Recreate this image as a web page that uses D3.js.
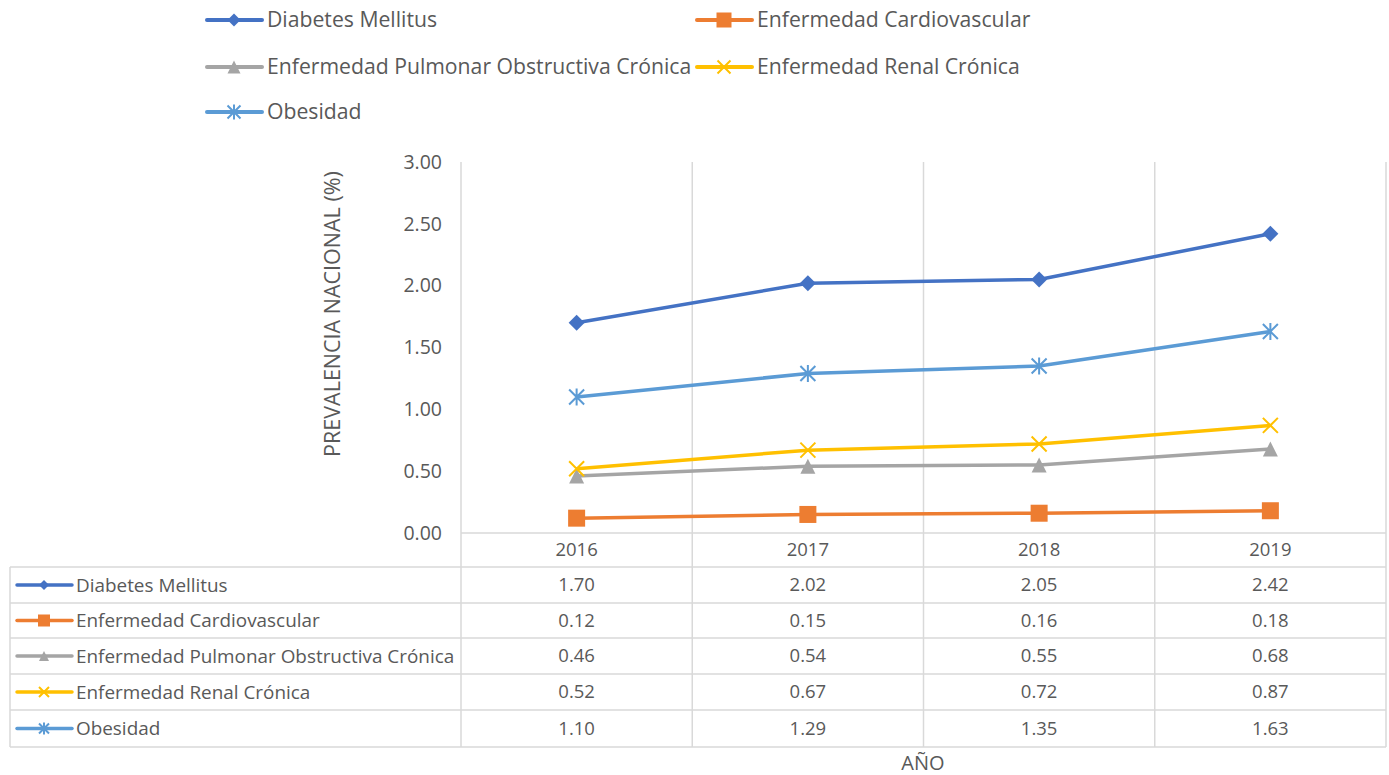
<!DOCTYPE html>
<html><head><meta charset="utf-8">
<script src="https://cdn.jsdelivr.net/npm/d3@7"></script>
<style>body{margin:0;background:#fff}svg{display:block;font-family:"Open Sans","Liberation Sans",sans-serif}</style>
</head><body><svg id="c" width="1389" height="775"></svg>
<script>
const years = ["2016","2017","2018","2019"];
const seriesNames = ["Diabetes Mellitus","Enfermedad Cardiovascular","Enfermedad Pulmonar Obstructiva Crónica","Enfermedad Renal Crónica","Obesidad"];
const diabetes = [1.70,2.02,2.05,2.42];
const cardio = [0.12,0.15,0.16,0.18];
const epoc = [0.46,0.54,0.55,0.68];
const renal = [0.52,0.67,0.72,0.87];
const obesidad = [1.10,1.29,1.35,1.63];
const yTicks = [0,0.5,1,1.5,2,2.5,3];
const colors = ["#4472C4","#ED7D31","#A5A5A5","#FFC000","#5B9BD5"];
const markers = ["diamond","square","triangle","x","asterisk"];
const values = [diabetes,cardio,epoc,renal,obesidad];

const svg = d3.select("#c");
const txt = "#595959", grid = "#D9D9D9";
const x = d3.scaleBand().domain(years).range([461,1386]);
const y = d3.scaleLinear().domain([0,3]).range([533,162]);

function marker(g, type, cx, cy, s, color){
  if(type==="diamond"){
    g.append("path").attr("d",`M${cx},${cy-s/2}L${cx+s/2},${cy}L${cx},${cy+s/2}L${cx-s/2},${cy}Z`).attr("fill",color);
  } else if(type==="square"){
    g.append("rect").attr("x",cx-s/2).attr("y",cy-s/2).attr("width",s).attr("height",s).attr("fill",color);
  } else if(type==="triangle"){
    g.append("path").attr("d",`M${cx},${cy-s/2}L${cx+s/2},${cy+s/2}L${cx-s/2},${cy+s/2}Z`).attr("fill",color);
  } else if(type==="x"){
    const h=s/2;
    g.append("path").attr("d",`M${cx-h},${cy-h}L${cx+h},${cy+h}M${cx-h},${cy+h}L${cx+h},${cy-h}`).attr("stroke",color).attr("stroke-width",2).attr("fill","none");
  } else if(type==="asterisk"){
    const h=s/2;
    g.append("path").attr("d",`M${cx-h},${cy-h}L${cx+h},${cy+h}M${cx-h},${cy+h}L${cx+h},${cy-h}M${cx},${cy-h-1}L${cx},${cy+h+1}`).attr("stroke",color).attr("stroke-width",2).attr("fill","none");
  }
}

// vertical gridlines (category boundaries)
const bounds = years.map(d=>x(d)).concat([x.range()[1]]);
bounds.forEach(bx=>{
  svg.append("line").attr("x1",bx).attr("x2",bx).attr("y1",162).attr("y2",747).attr("stroke",grid).attr("stroke-width",1.5);
});
// table horizontal lines
const rowY = [533,567,603,638,674,710,747];
rowY.forEach((ry,i)=>{
  svg.append("line").attr("x1",i===0?461:10).attr("x2",1386).attr("y1",ry).attr("y2",ry).attr("stroke",grid).attr("stroke-width",1.5);
});
svg.append("line").attr("x1",10).attr("x2",10).attr("y1",567).attr("y2",747).attr("stroke",grid).attr("stroke-width",1.5);

// y tick labels
yTicks.forEach(t=>{
  svg.append("text").attr("x",442).attr("y",y(t)).attr("dy","0.35em").attr("text-anchor","end")
    .attr("font-size",19.5).attr("fill",txt).text(t.toFixed(2));
});
// y title
svg.append("text").attr("transform","translate(340,314) rotate(-90)").attr("text-anchor","middle")
  .attr("font-size",21.5).attr("fill",txt).text("PREVALENCIA NACIONAL (%)");

// year header
years.forEach(yr=>{
  svg.append("text").attr("x",x(yr)+x.bandwidth()/2).attr("y",(533+567)/2).attr("dy","0.35em")
    .attr("text-anchor","middle").attr("font-size",18.5).attr("fill",txt).text(yr);
});

// lines
const line = d3.line().x((d,i)=>x(years[i])+x.bandwidth()/2).y(d=>y(d));
values.forEach((vals,k)=>{
  svg.append("path").attr("d",line(vals)).attr("fill","none").attr("stroke",colors[k]).attr("stroke-width",3.5).attr("stroke-linejoin","round");
});
values.forEach((vals,k)=>{
  const g = svg.append("g");
  vals.forEach((v,i)=>marker(g,markers[k],x(years[i])+x.bandwidth()/2,y(v),k===1?17:k===0?16:15,colors[k]));
});

// table rows
values.forEach((vals,k)=>{
  const cy=(rowY[k+1]+rowY[k+2])/2;
  const g=svg.append("g");
  g.append("line").attr("x1",17).attr("x2",72).attr("y1",cy).attr("y2",cy).attr("stroke",colors[k]).attr("stroke-width",3.5).attr("stroke-linecap","round");
  marker(g,markers[k],44,cy,k===1?12:10,colors[k]);
  svg.append("text").attr("x",76).attr("y",cy).attr("dy","0.35em").attr("font-size",18.9).attr("fill",txt).text(seriesNames[k]);
  vals.forEach((v,i)=>{
    svg.append("text").attr("x",x(years[i])+x.bandwidth()/2).attr("y",cy).attr("dy","0.35em").attr("text-anchor","middle")
      .attr("font-size",18.5).attr("fill",txt).text(v.toFixed(2));
  });
});

// x title
svg.append("text").attr("x",923).attr("y",763).attr("dy","0.35em").attr("text-anchor","middle").attr("font-size",20).attr("fill",txt).text("AÑO");

// top legend
const legPos = [[207,20],[697,20],[207,67],[697,67],[207,112]];
seriesNames.forEach((n,k)=>{
  const [lx,ly]=legPos[k];
  const g=svg.append("g");
  g.append("line").attr("x1",lx).attr("x2",lx+55).attr("y1",ly).attr("y2",ly).attr("stroke",colors[k]).attr("stroke-width",4).attr("stroke-linecap","round");
  marker(g,markers[k],lx+27,ly,k===1?15:13,colors[k]);
  svg.append("text").attr("x",lx+60).attr("y",ly).attr("dy","0.35em").attr("font-size",21.2).attr("fill",txt).text(n);
});
</script></body></html>
